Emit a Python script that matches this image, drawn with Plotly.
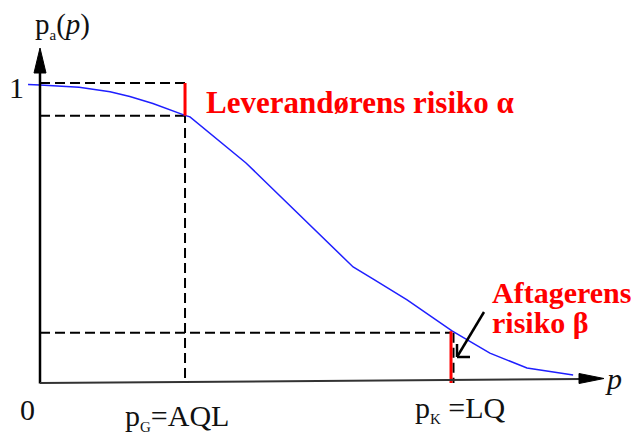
import plotly.graph_objects as go

# ---- data (p in % defective, Pa = probability of acceptance) ----
p_vals = [-0.29, 0.0, 0.95, 1.70, 2.18, 2.74, 3.52, 3.64, 5.00, 7.60, 8.08, 8.91, 10.0, 10.92, 11.82, 12.94]
pa_vals = [0.998, 0.997, 0.989, 0.974, 0.958, 0.935, 0.895, 0.890, 0.736, 0.388, 0.348, 0.278, 0.174, 0.100, 0.050, 0.027]
AQL = 3.52
LQ = 10.0
PA_AQL = 0.894
PA_LQ = 0.168

# ---- pixel <-> data helpers for decorations ----
X0, SX = 40.0, 41.2
Y0, SY = 383.0, 299.0
def px2x(px):
    return (px - X0) / SX
def py2y(py):
    return (Y0 - py) / SY

SERIF = "Liberation Serif"

fig = go.Figure()
fig.add_trace(go.Scatter(x=p_vals, y=pa_vals, mode="lines",
                         line=dict(color="#1f1fff", width=1.5),
                         hoverinfo="skip", showlegend=False))

shapes = []
dash = dict(color="black", width=2, dash="10px,5px")
# dashed guides
shapes.append(dict(type="line", x0=0, x1=AQL, y0=py2y(83), y1=py2y(83), line=dash, layer="below"))
shapes.append(dict(type="line", x0=0, x1=AQL, y0=PA_AQL, y1=PA_AQL, line=dash, layer="below"))
shapes.append(dict(type="line", x0=AQL, x1=AQL, y0=py2y(83), y1=0, line=dash, layer="below"))
shapes.append(dict(type="line", x0=0, x1=LQ, y0=PA_LQ, y1=PA_LQ, line=dash, layer="below"))
shapes.append(dict(type="line", x0=LQ + 1.5 / SX, x1=LQ + 1.5 / SX, y0=PA_LQ, y1=0, line=dash, layer="below"))
# red risk markers
red = dict(color="#ff0000", width=3)
shapes.append(dict(type="line", x0=AQL, x1=AQL, y0=PA_AQL, y1=py2y(83), line=red))
shapes.append(dict(type="line", x0=LQ - 1.0 / SX, x1=LQ - 1.0 / SX, y0=0, y1=PA_LQ + 0.005, line=red))
# axes
shapes.append(dict(type="line", x0=0, x1=0, y0=py2y(383.5), y1=py2y(70), line=dict(color="black", width=2.5)))
shapes.append(dict(type="path", path=f"M {px2x(40)},{py2y(48)} L {px2x(46)},{py2y(73)} L {px2x(34)},{py2y(73)} Z",
                   fillcolor="black", line=dict(color="black", width=1)))
shapes.append(dict(type="line", x0=0, x1=px2x(582), y0=py2y(383), y1=py2y(379), line=dict(color="#333333", width=2)))
shapes.append(dict(type="path", path=f"M {px2x(604)},{py2y(378.5)} L {px2x(579)},{py2y(373.5)} L {px2x(579)},{py2y(383.5)} Z",
                   fillcolor="black", line=dict(color="black", width=1)))
# pointer arrow to beta
blk = dict(color="black", width=2.5)
shapes.append(dict(type="line", x0=px2x(484), y0=py2y(312), x1=px2x(457), y1=py2y(357), line=blk))
shapes.append(dict(type="line", x0=px2x(457), y0=py2y(344), x1=px2x(457), y1=py2y(357), line=blk))
shapes.append(dict(type="line", x0=px2x(457), y0=py2y(357), x1=px2x(470), y1=py2y(357), line=blk))

ann = []
def txt(text, xpx, ypx, size=30, color="#111111", xanchor="center", bold=False):
    t = f"<b>{text}</b>" if bold else text
    ann.append(dict(text=t, x=px2x(xpx), y=py2y(ypx), xref="x", yref="y", showarrow=False,
                    xanchor=xanchor, yanchor="middle",
                    font=dict(family=SERIF, size=size, color=color)))

def sub(s):
    return f"<sub><span style='font-size:15px'>{s}</span></sub>"

txt("p" + sub("a") + "(<i>p</i>)", 62, 25, size=29)
txt("1", 16, 87)
txt("0", 27, 409)
txt("p" + sub("G") + "=AQL", 177, 417)
txt("p" + sub("K") + " =LQ", 460, 409)
txt("<i>p</i>", 613, 378)
txt("Leverandørens risiko α", 204, 102, size=31, color="#ff0000", xanchor="left", bold=True)
txt("Aftagerens", 490, 292, color="#ff0000", xanchor="left", bold=True)
txt("risiko β", 490, 322, color="#ff0000", xanchor="left", bold=True)

fig.update_layout(
    width=634, height=435,
    margin=dict(l=0, r=0, t=0, b=0),
    paper_bgcolor="white", plot_bgcolor="white",
    xaxis=dict(range=[px2x(0), px2x(634)], visible=False, fixedrange=True),
    yaxis=dict(range=[py2y(435), py2y(0)], visible=False, fixedrange=True),
    shapes=shapes, annotations=ann, showlegend=False,
)
fig.write_html("out.html")
